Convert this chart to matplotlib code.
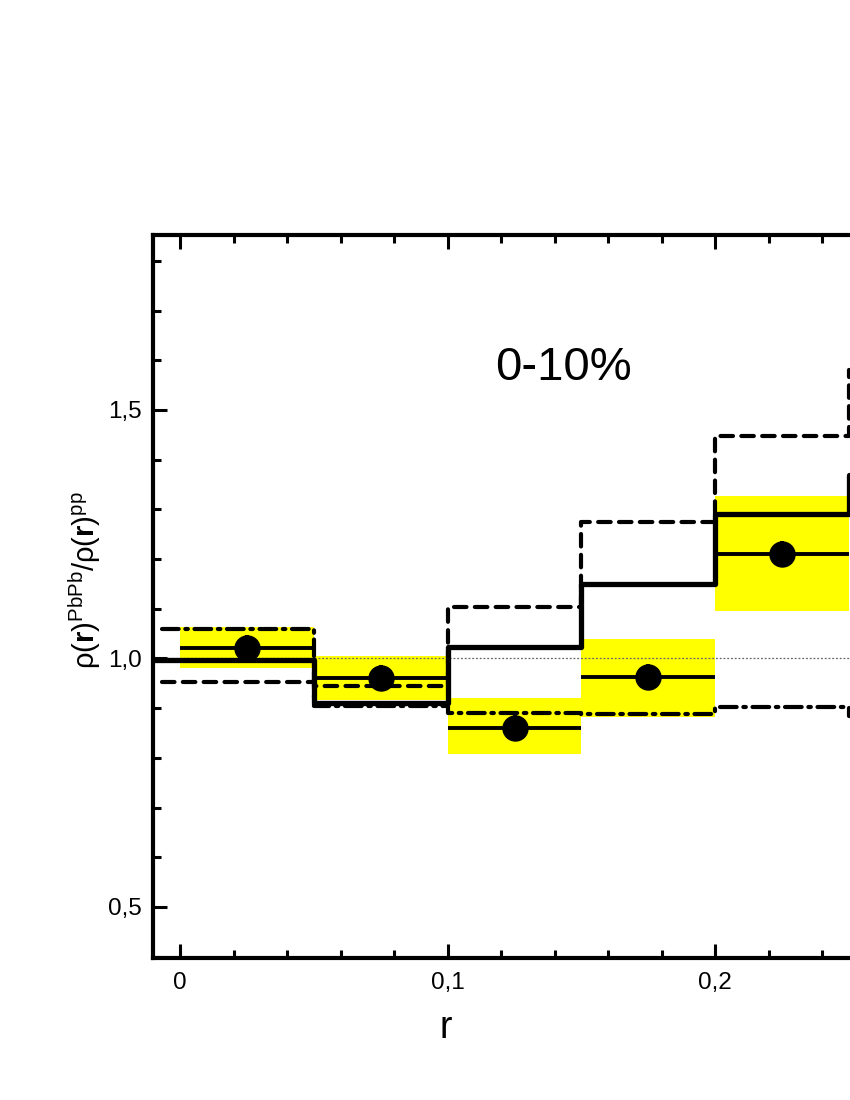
import numpy as np
import matplotlib
matplotlib.use("Agg")
import matplotlib.pyplot as plt
from matplotlib.ticker import MultipleLocator, FuncFormatter

plt.rcParams['font.family'] = ['Liberation Sans', 'DejaVu Sans']
plt.rcParams['mathtext.fontset'] = 'custom'
plt.rcParams['mathtext.rm'] = 'Liberation Sans'
plt.rcParams['mathtext.it'] = 'Liberation Sans:italic'
plt.rcParams['mathtext.bf'] = 'Liberation Sans:bold'

# bins in r
bin_edges = [0.0, 0.05, 0.1, 0.15, 0.2, 0.25, 0.3]
r_centers = [0.025, 0.075, 0.125, 0.175, 0.225]

# measured ratio with systematic band
ratio = [1.022, 0.960, 0.861, 0.962, 1.211]
ratio_stat = [0.026, 0.026, 0.026, 0.026, 0.026]
band_low = [0.980, 0.917, 0.807, 0.882, 1.095]
band_high = [1.064, 1.004, 0.920, 1.040, 1.326]

# model curves (per bin, last bin only partly visible)
model_solid = [0.996, 0.911, 1.024, 1.149, 1.290, 1.370]
model_dashed = [0.952, 0.944, 1.103, 1.274, 1.447, 1.580]
model_dashdot = [1.060, 0.905, 0.891, 0.889, 0.903, 0.885]
solid_start = -0.0101
curve_start = -0.0067

fig = plt.figure(figsize=(8.5, 11), dpi=100)
ax = fig.add_axes([0.18, 0.1291, 0.9763, 0.6573])
ax.set_xlim(-0.0101, 0.3)
ax.set_ylim(0.3974, 1.852)

# yellow systematic boxes
for i in range(len(ratio)):
    ax.fill_between([bin_edges[i], bin_edges[i + 1]], band_low[i], band_high[i],
                    color='#ffff00', linewidth=0, zorder=1)

ax.axhline(1.0, color='#666666', lw=0.9, ls=(0, (1.5, 1.5)), zorder=2)


def step_curve(start, vals):
    xs = np.r_[start, bin_edges[1:len(vals)], bin_edges[len(vals)]]
    ys = np.r_[vals, vals[-1]]
    return xs, ys


xs, ys = step_curve(solid_start, model_solid)
ax.step(xs, ys, where='post', color='black', lw=3.8, zorder=4)
xs, ys = step_curve(curve_start, model_dashed)
ax.step(xs, ys, where='post', color='black', lw=3, ls=(0, (3, 2)), zorder=3,
        dash_capstyle='round')
xs, ys = step_curve(curve_start, model_dashdot)
ax.step(xs, ys, where='post', color='black', lw=3, ls=(0, (4, 1.6, 0.6, 1.6)),
        zorder=3, dash_capstyle='round')

ax.errorbar(r_centers, ratio, xerr=0.025, yerr=ratio_stat, fmt='o', color='black',
            ms=18, elinewidth=2.8, capsize=0, zorder=5)

ax.text(0.1434, 1.585, '0-10%', fontsize=34, ha='center', va='center')

# axes styling
for s in ax.spines.values():
    s.set_linewidth(3)
ax.xaxis.set_major_locator(MultipleLocator(0.1))
ax.xaxis.set_minor_locator(MultipleLocator(0.02))
ax.yaxis.set_major_locator(MultipleLocator(0.5))
ax.yaxis.set_minor_locator(MultipleLocator(0.1))
ax.tick_params(which='both', direction='in', top=True, right=True, width=2.2)
ax.tick_params(which='major', length=10)
ax.tick_params(which='minor', length=6)
ax.tick_params(axis='x', which='major', labelsize=17.5, pad=10)
ax.tick_params(axis='y', which='major', labelsize=17.5, pad=8)


def xfmt(v, p):
    if abs(v) < 1e-9:
        return '0'
    if v > 0.25:
        return ''
    return f'{v:.1f}'.replace('.', ',')


ax.xaxis.set_major_formatter(FuncFormatter(xfmt))
ax.yaxis.set_major_formatter(FuncFormatter(lambda v, p: f'{v:.1f}'.replace('.', ',')))

ax.set_xlabel('r', fontsize=27)
ax.xaxis.label.set_va('baseline')
ax.xaxis.set_label_coords(0.353, -0.1106)
ax.set_ylabel(r'$\mathrm{\rho}(\mathbf{r})^{\mathrm{PbPb}}/\mathrm{\rho}(\mathbf{r})^{\mathrm{pp}}$',
              fontsize=21)
ax.yaxis.set_label_coords(-0.06, 0.523)

fig.savefig('out.png', dpi=100)
